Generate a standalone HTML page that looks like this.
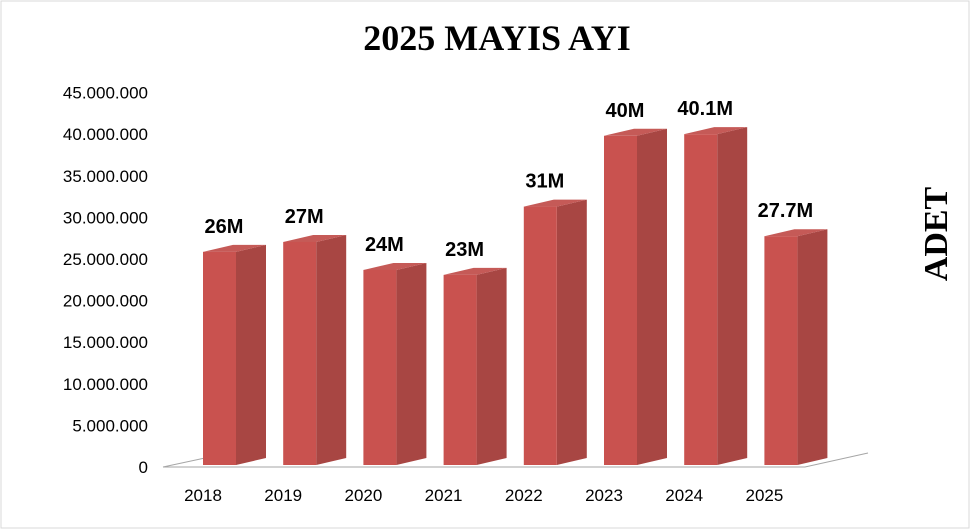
<!DOCTYPE html>
<html><head><meta charset="utf-8"><style>
html,body{margin:0;padding:0;background:#fff}
svg{display:block}
</style></head><body>
<svg width="971" height="530" viewBox="0 0 971 530" font-family="Liberation Sans, sans-serif">
<rect x="1" y="1" width="968" height="527" fill="#fff" stroke="#d9d9d9"/>
<text x="497" y="50" text-anchor="middle" font-family="Liberation Serif, serif" font-weight="bold" font-size="36">2025 MAYIS AYI</text>
<text transform="translate(947,234) rotate(-90)" text-anchor="middle" font-family="Liberation Serif, serif" font-weight="bold" font-size="34">ADET</text>
<g id="floor">
<polyline points="163,467 805,467 868,453" fill="none" stroke="#a6a6a6" stroke-width="1"/>
<line x1="163" y1="467" x2="205" y2="458" stroke="#a6a6a6"/>
</g>
<g id="yticks"></g>
<g id="bars"></g>
<g id="xlabels"></g>
</svg>
<script>
const categories=["2018","2019","2020","2021","2022","2023","2024","2025"];
const values=[25.9,27.1,23.7,23.1,31.4,40.0,40.2,27.8];
const valueLabels=["26M","27M","24M","23M","31M","40M","40.1M","27.7M"];
const tickValues=[0,5,10,15,20,25,30,35,40,45];
const tickLabels=["0","5.000.000","10.000.000","15.000.000","20.000.000","25.000.000","30.000.000","35.000.000","40.000.000","45.000.000"];
const NS="http://www.w3.org/2000/svg";
function mk(t,a){const e=document.createElementNS(NS,t);for(const k in a)e.setAttribute(k,a[k]);return e;}
const barBase=465, barPx=8.23;
function yBar(v){return barBase-v*barPx;}
function yTick(v){return 467-v*8.32;}
function xBar(i){return 203+i*80.2;}
const yt=document.getElementById('yticks');
tickValues.forEach((v,i)=>{
 const t=mk('text',{x:148,y:yTick(v)+6,'text-anchor':'end','font-size':17,fill:'#000'});
 
 
 t.textContent=tickLabels[i];yt.appendChild(t);
});
const bg=document.getElementById('bars'), xl=document.getElementById('xlabels');
const W=33,DX=30,DY=7;
categories.forEach((c,i)=>{
 const x=xBar(i), top=yBar(values[i]);
 const g=mk('g',{});
 
 
 g.appendChild(mk('polygon',{points:`${x+W},${top} ${x+W+DX},${top-DY} ${x+W+DX},${barBase-DY} ${x+W},${barBase}`,fill:'#a84643'}));
 g.appendChild(mk('polygon',{points:`${x},${top} ${x+DX},${top-DY} ${x+W+DX},${top-DY} ${x+W},${top}`,fill:'#c55a57'}));
 g.appendChild(mk('rect',{x:x,y:top,width:W,height:barBase-top,fill:'#c9524f'}));
 bg.appendChild(g);
 const lb=mk('text',{x:x+21,y:top-19,'text-anchor':'middle','font-size':20,'font-weight':'bold'});
 
 
 lb.textContent=valueLabels[i];bg.appendChild(lb);
 const xt=mk('text',{x:x,y:501,'text-anchor':'middle','font-size':17});
 
 
 xt.textContent=c;xl.appendChild(xt);
});
</script>
</body></html>
